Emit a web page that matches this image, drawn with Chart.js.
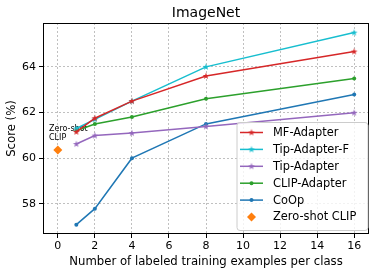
<!DOCTYPE html>
<html lang="en">
<head>
  <meta charset="UTF-8" />
  <title>ImageNet</title>
  <script src="https://cdn.jsdelivr.net/npm/chart.js"></script>
  <style>
    html, body { margin: 0; padding: 0; background: #fff; }
  </style>
</head>
<body>
  <canvas id="chart" width="377" height="275"></canvas>

  <script>
    // values
    const shots = [1, 2, 4, 8, 16];
    const mfAdapter = [61.15, 61.75, 62.5, 63.6, 64.67];
    const tipAdapterF = [61.3, 61.7, 62.5, 64.0, 65.5];
    const tipAdapter = [60.62, 60.99, 61.1, 61.39, 61.99];
    const clipAdapter = [61.2, 61.5, 61.8, 62.6, 63.49];
    const coop = [57.09, 57.79, 60.0, 61.5, 62.79];
    const zeroShotX = [0];
    const zeroShotY = [60.36];

    const seriesNames = ['MF-Adapter', 'Tip-Adapter-F', 'Tip-Adapter', 'CLIP-Adapter', 'CoOp', 'Zero-shot CLIP'];
    const xTicks = [0, 2, 4, 6, 8, 10, 12, 14, 16];
    const yTicks = [58, 60, 62, 64];

    const FONT = "'DejaVu Sans', sans-serif";

    function makeStar(color, r) {
      const c = document.createElement('canvas');
      const size = Math.ceil(r * 2 + 2);
      c.width = size; c.height = size;
      const g = c.getContext('2d');
      const cx = size / 2, cy = size / 2;
      g.beginPath();
      for (let k = 0; k < 10; k++) {
        const rr = k % 2 === 0 ? r : r * 0.382;
        const ang = -Math.PI / 2 + k * Math.PI / 5;
        const px = cx + rr * Math.cos(ang), py = cy + rr * Math.sin(ang);
        if (k === 0) g.moveTo(px, py); else g.lineTo(px, py);
      }
      g.closePath();
      g.fillStyle = color;
      g.fill();
      return c;
    }

    const red = '#d62728', cyan = '#17becf', purple = '#9467bd', green = '#2ca02c', blue = '#1f77b4', orange = '#ff7f0e';

    function lineSet(name, vals, color, style, radius) {
      return {
        label: name,
        data: shots.map((s, i) => ({ x: s, y: vals[i] })),
        showLine: true,
        borderColor: color,
        backgroundColor: color,
        borderWidth: 1.5,
        pointStyle: style,
        pointRadius: radius,
        pointBorderWidth: 0,
        pointBackgroundColor: color
      };
    }

    const datasets = [
      lineSet(seriesNames[0], mfAdapter, red, makeStar(red, 3.6), 3.6),
      lineSet(seriesNames[1], tipAdapterF, cyan, makeStar(cyan, 3.6), 3.6),
      lineSet(seriesNames[2], tipAdapter, purple, makeStar(purple, 3.6), 3.6),
      lineSet(seriesNames[3], clipAdapter, green, 'circle', 2),
      lineSet(seriesNames[4], coop, blue, 'circle', 2),
      {
        label: seriesNames[5],
        data: zeroShotX.map((v, i) => ({ x: v, y: zeroShotY[i] })),
        showLine: false,
        borderColor: orange,
        backgroundColor: orange,
        pointStyle: 'rectRot',
        pointRadius: 4.5,
        pointBorderWidth: 0
      }
    ];

    function drawMarker(ctx, ds, x, y) {
      const st = ds.pointStyle;
      ctx.fillStyle = ds.backgroundColor;
      if (st instanceof HTMLCanvasElement) {
        ctx.drawImage(st, x - st.width / 2, y - st.height / 2);
      } else if (st === 'circle') {
        ctx.beginPath();
        ctx.arc(x, y, ds.pointRadius, 0, Math.PI * 2);
        ctx.fill();
      } else {
        const r = ds.pointRadius;
        ctx.beginPath();
        ctx.moveTo(x, y - r); ctx.lineTo(x + r, y); ctx.lineTo(x, y + r); ctx.lineTo(x - r, y);
        ctx.closePath();
        ctx.fill();
      }
    }

    const decor = {
      id: 'decor',
      beforeDatasetsDraw(chart) {
        const { ctx } = chart;
        ctx.save();
        // annotation next to the zero-shot point
        ctx.fillStyle = '#000';
        ctx.font = '8px ' + FONT;
        ctx.textAlign = 'left';
        ctx.textBaseline = 'middle';
        ctx.fillText('Zero-shot', 49, 129);
        ctx.fillText('CLIP', 49, 137.5);
        ctx.restore();
      },
      afterDraw(chart) {
        const { ctx, chartArea: a } = chart;
        ctx.save();
        // frame
        ctx.strokeStyle = '#000';
        ctx.lineWidth = 1;
        ctx.strokeRect(Math.round(a.left) + 0.5, Math.round(a.top) + 0.5,
          Math.round(a.right - a.left) - 1, Math.round(a.bottom - a.top) - 1);

        // title and axis titles
        ctx.fillStyle = '#000';
        ctx.textAlign = 'center';
        ctx.textBaseline = 'middle';
        ctx.font = '14px ' + FONT;
        ctx.fillText('ImageNet', (a.left + a.right) / 2, 13);
        ctx.font = '11.7px ' + FONT;
        ctx.fillText('Number of labeled training examples per class', (a.left + a.right) / 2, 262);
        ctx.save();
        ctx.translate(12, (a.top + a.bottom) / 2);
        ctx.rotate(-Math.PI / 2);
        ctx.fillText('Score (%)', 0, 0);
        ctx.restore();

        // legend box
        const lx = 237, ly = 122.5, lw = 131, lh = 108;
        ctx.beginPath();
        ctx.roundRect(lx, ly, lw, lh, 3);
        ctx.fillStyle = 'rgba(255,255,255,0.8)';
        ctx.fill();
        ctx.strokeStyle = '#cccccc';
        ctx.lineWidth = 1;
        ctx.stroke();

        ctx.font = '11.4px ' + FONT;
        ctx.textAlign = 'left';
        chart.data.datasets.forEach((ds, i) => {
          const cy = 132.5 + i * 16.9;
          if (ds.showLine) {
            ctx.strokeStyle = ds.borderColor;
            ctx.lineWidth = 1.5;
            ctx.beginPath();
            ctx.moveTo(240, cy); ctx.lineTo(263, cy);
            ctx.stroke();
          }
          drawMarker(ctx, ds, 251.5, cy);
          ctx.fillStyle = '#000';
          ctx.fillText(ds.label, 273, cy + 0.5);
        });
        ctx.restore();
      }
    };

    const gridOpts = {
      color: '#b0b0b0',
      lineWidth: 0.8,
      drawTicks: true,
      tickLength: 4,
      tickColor: '#000',
      tickWidth: 1,
      tickBorderDash: []
    };

    new Chart(document.getElementById('chart'), {
      type: 'scatter',
      data: { datasets: datasets },
      plugins: [decor],
      options: {
        responsive: false,
        devicePixelRatio: 1,
        animation: false,
        layout: { padding: { top: 23, right: 8, bottom: 0, left: 0 } },
        plugins: {
          legend: { display: false },
          title: { display: false },
          tooltip: { enabled: false }
        },
        scales: {
          x: {
            type: 'linear',
            min: -0.8,
            max: 16.8,
            afterBuildTicks: s => { s.ticks = xTicks.map(v => ({ value: v })); },
            afterFit: s => { s.height = 41; },
            grid: gridOpts,
            border: { display: false, dash: [2, 2] },
            ticks: {
              color: '#000',
              font: { family: FONT, size: 11 },
              padding: 2,
              maxRotation: 0,
              autoSkip: false,
              callback: v => String(v)
            }
          },
          y: {
            type: 'linear',
            min: 56.68,
            max: 65.92,
            afterBuildTicks: s => { s.ticks = yTicks.map(v => ({ value: v })); },
            afterFit: s => { s.width = 43; },
            grid: gridOpts,
            border: { display: false, dash: [2, 2] },
            ticks: {
              color: '#000',
              font: { family: FONT, size: 11 },
              padding: 3,
              callback: v => String(v)
            }
          }
        }
      }
    });
  </script>
</body>
</html>
